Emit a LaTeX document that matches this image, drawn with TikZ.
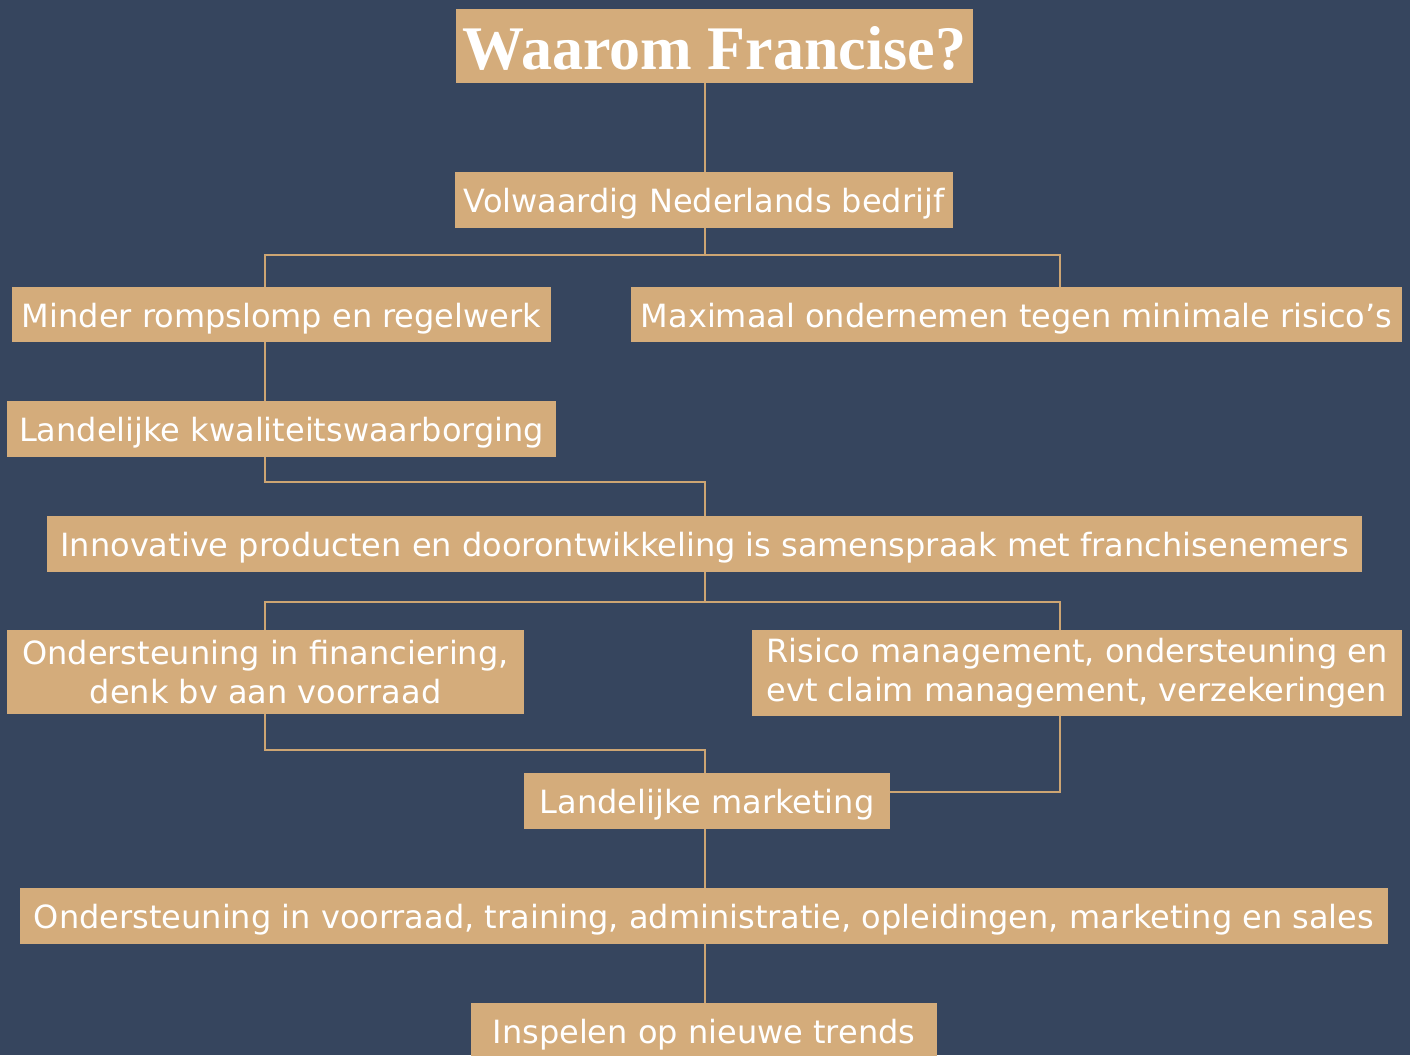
\documentclass[tikz,border=0pt]{standalone}
\usepackage{fontspec}
\setmainfont{DejaVu Sans}
\newfontfamily\titlefont{Liberation Serif}
\definecolor{bgc}{RGB}{54,69,94}
\definecolor{boxc}{RGB}{212,172,123}
\definecolor{linec}{RGB}{205,165,115}
\begin{document}
\begin{tikzpicture}[x=1pt,y=-1pt,
  box/.style={fill=boxc,text=white,inner sep=0pt,outer sep=0pt,align=center,
    font=\fontsize{32}{39}\selectfont,execute at begin node={\rule{0pt}{32.5pt}}},
  conn/.style={draw=linec,line width=2.5pt}]
\useasboundingbox (0,0) rectangle (1410,1055);
\fill[bgc] (0,0) rectangle (1410,1055);
\coordinate (xl) at (265,0);
\coordinate (xm) at (705,0);
\coordinate (xr) at (1060,0);
\node[box,minimum width=517pt,minimum height=74pt,font=\titlefont\bfseries\fontsize{62}{70}\selectfont,execute at begin node={\rule{0pt}{48pt}}] (title) at (714.5,46) {Waarom Francise?};
\node[box,minimum width=498pt,minimum height=56pt] (vol) at (704,200) {Volwaardig Nederlands bedrijf};
\node[box,minimum width=539pt,minimum height=55pt] (minder) at (281.5,314.5) {Minder rompslomp en regelwerk};
\node[box,minimum width=771pt,minimum height=55pt] (max) at (1016.5,314.5) {Maximaal ondernemen tegen minimale risico’s};
\node[box,minimum width=549pt,minimum height=56pt] (lk) at (281.5,429) {Landelijke kwaliteitswaarborging};
\node[box,minimum width=1315pt,minimum height=56pt] (inno) at (704.5,544) {Innovative producten en doorontwikkeling is samenspraak met franchisenemers};
\node[box,minimum width=517pt,minimum height=84pt] (fin) at (265.5,672) {Ondersteuning in financiering,\\denk bv aan voorraad};
\node[box,minimum width=650pt,minimum height=86pt,align=left] (ris) at (1077,673) {Risico management, ondersteuning en\\evt claim management, verzekeringen};
\node[box,minimum width=366pt,minimum height=56pt] (mark) at (707,801) {Landelijke marketing};
\node[box,minimum width=1368pt,minimum height=56pt] (vor) at (704,916) {Ondersteuning in voorraad, training, administratie, opleidingen, marketing en sales};
\node[box,minimum width=466pt,minimum height=56pt] (insp) at (704,1031) {Inspelen op nieuwe trends};
\draw[conn] (title.south -| xm) -- (vol.north -| xm);
\draw[conn] (vol.south -| xm) -- ++(0,27) -| (minder.north -| xl);
\draw[conn] (vol.south -| xm) -- ++(0,27) -| (max.north -| xr);
\draw[conn] (minder.south -| xl) -- (lk.north -| xl);
\draw[conn] (lk.south -| xl) -- ++(0,25) -| (inno.north -| xm);
\draw[conn] (inno.south -| xm) -- ++(0,30) -| (fin.north -| xl);
\draw[conn] (inno.south -| xm) -- ++(0,30) -| (ris.north -| xr);
\draw[conn] (fin.south -| xl) -- ++(0,36) -| (mark.north -| xm);
\draw[conn] (ris.south -| xr) |- ([yshift=9pt]mark.east);
\draw[conn] (mark.south -| xm) -- (vor.north -| xm);
\draw[conn] (vor.south -| xm) -- (insp.north -| xm);
\end{tikzpicture}
\end{document}
